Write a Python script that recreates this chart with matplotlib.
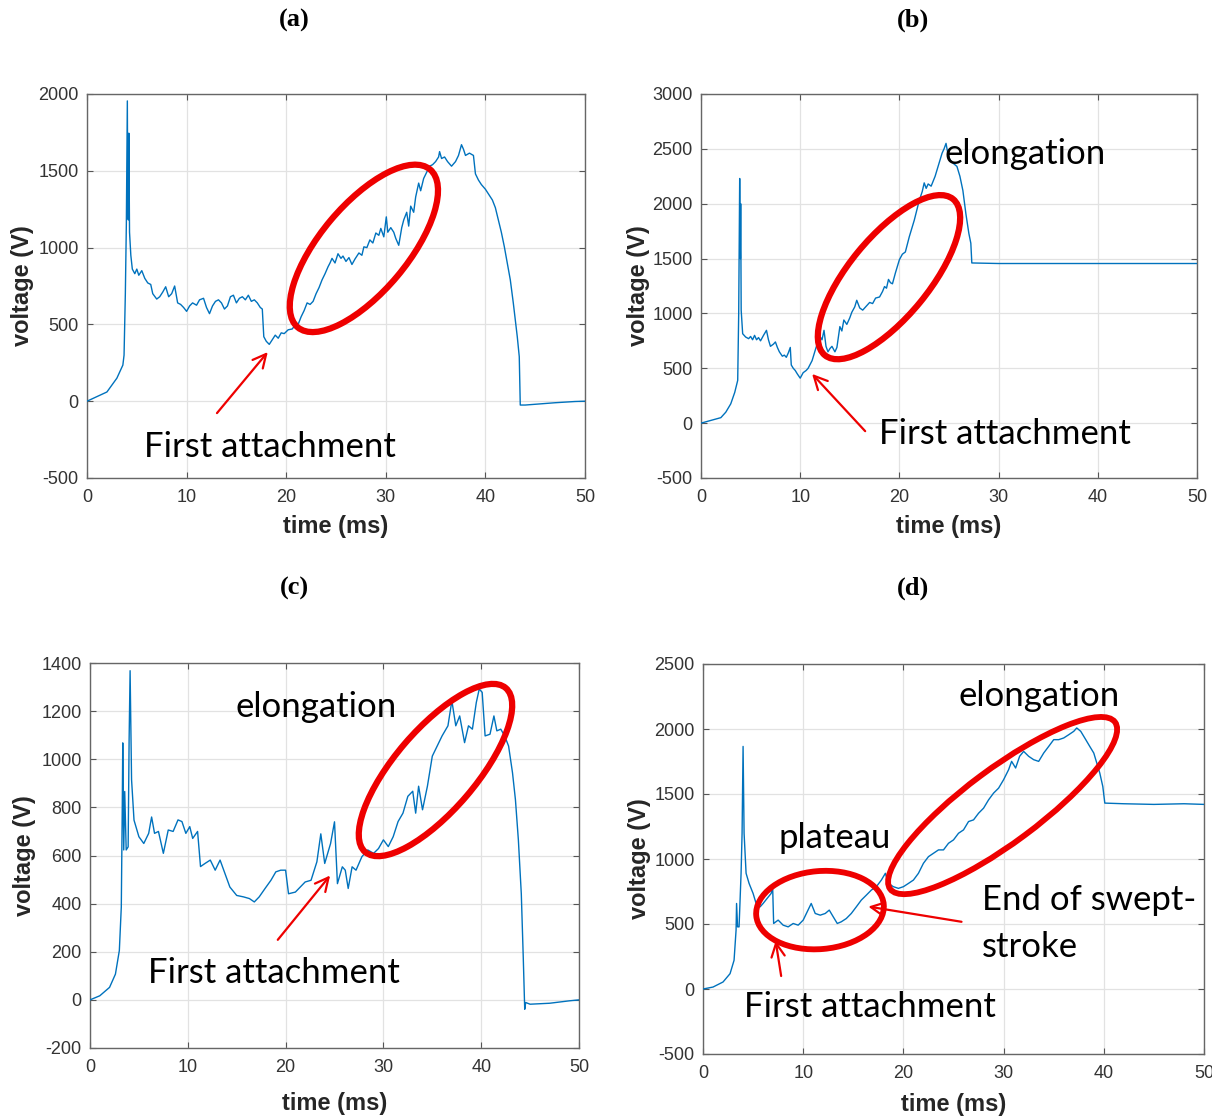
import matplotlib
matplotlib.use('Agg')
import matplotlib.pyplot as plt
from matplotlib.patches import Ellipse
from matplotlib.transforms import ScaledTranslation

plt.rcParams['axes.unicode_minus'] = False

# ---------------- data ----------------
x_ticks = [0, 10, 20, 30, 40, 50]
x_ticklabels = ['0', '10', '20', '30', '40', '50']

t_a = [0, 1, 2, 3, 3.6, 3.72, 3.85, 3.95, 4.05, 4.1,
       4.15, 4.2, 4.27, 4.4, 4.55, 4.8, 5.0, 5.2, 5.5, 5.8,
       6.1, 6.4, 6.6, 7.0, 7.3, 7.6, 7.9, 8.2, 8.5, 8.8,
       9.1, 9.4, 9.7, 10.0, 10.3, 10.6, 11.0, 11.3, 11.7, 12.0,
       12.3, 12.6, 12.9, 13.2, 13.5, 13.8, 14.1, 14.4, 14.7, 15.0,
       15.3, 15.6, 15.9, 16.2, 16.5, 16.8, 17.1, 17.4, 17.6, 17.75,
       18.0, 18.3, 18.6, 18.9, 19.2, 19.5, 19.8, 20.2, 20.6, 20.9,
       21.2, 21.5, 21.8, 22.1, 22.4, 22.7, 23.0, 23.3, 23.6, 23.9,
       24.2, 24.4, 24.6, 24.9, 25.2, 25.5, 25.7, 26.0, 26.3, 26.6,
       26.9, 27.3, 27.6, 27.8, 28.1, 28.4, 28.7, 29.0, 29.3, 29.5,
       29.8, 30.05, 30.2, 30.5, 30.8, 31.0, 31.3, 31.6, 31.8, 32.1,
       32.3, 32.5, 32.8, 33.0, 33.3, 33.5, 33.8, 34.1, 34.4, 34.7,
       35.0, 35.3, 35.4, 35.6, 35.9, 36.2, 36.6, 37.0, 37.3, 37.6,
       37.8, 38.0, 38.4, 38.8, 39.0, 39.3, 39.6, 40.0, 40.3, 40.7,
       41.0, 41.3, 41.6, 41.9, 42.2, 42.5, 42.8, 43.0, 43.2, 43.4,
       43.5, 44.0, 45.0, 46.0, 47.0, 48.0, 49.0, 50]
v_a = [0, 30, 60, 150, 235, 300, 700, 1150, 1955, 1200,
       1180, 1745, 1100, 950, 860, 830, 860, 820, 850, 800,
       770, 760, 700, 665, 680, 710, 745, 680, 700, 750,
       640, 630, 610, 585, 620, 640, 625, 660, 670, 610,
       570, 620, 650, 660, 640, 600, 620, 680, 690, 640,
       670, 680, 660, 690, 650, 660, 640, 610, 600, 420,
       390, 370, 400, 430, 410, 445, 440, 465, 470, 495,
       500, 550, 590, 640, 630, 650, 700, 740, 790, 830,
       875, 900, 930, 900, 960, 930, 945, 910, 935, 890,
       925, 965, 950, 1005, 1000, 1050, 1030, 1095, 1080, 1125,
       1070, 1200, 1100, 1130, 1100, 1060, 1015, 1130, 1180, 1230,
       1140, 1270, 1230, 1330, 1420, 1370, 1450, 1490, 1530, 1540,
       1560, 1590, 1625, 1580, 1590, 1560, 1530, 1560, 1600, 1670,
       1640, 1600, 1615, 1600, 1480, 1440, 1410, 1380, 1350, 1310,
       1260, 1180, 1100, 1006, 900, 790, 640, 530, 420, 290,
       -25, -25, -20, -15, -10, -6, -2, 0]
yticks_a = [-500, 0, 500, 1000, 1500, 2000]
yticklabels_a = ['-500', '0', '500', '1000', '1500', '2000']

t_b = [0, 1, 2, 2.5, 3, 3.4, 3.7, 3.8, 3.9, 3.97,
       4.0, 4.05, 4.2, 4.5, 4.8, 5.0, 5.2, 5.4, 5.6, 5.8,
       6.0, 6.3, 6.6, 6.8, 7.0, 7.3, 7.5, 7.7, 7.9, 8.2,
       8.4, 8.6, 8.8, 9.0, 9.1, 9.3, 9.5, 9.7, 10.0, 10.3,
       10.6, 10.8, 11.2, 11.6, 12.0, 12.2, 12.4, 12.6, 12.8, 13.0,
       13.2, 13.5, 13.7, 14.0, 14.2, 14.4, 14.7, 15.0, 15.2, 15.5,
       15.7, 16.0, 16.3, 16.7, 17.0, 17.3, 17.6, 18.0, 18.3, 18.5,
       18.7, 18.9, 19.1, 19.3, 19.6, 20.0, 20.3, 20.6, 21.0, 21.5,
       22.0, 22.3, 22.5, 22.7, 22.9, 23.2, 23.6, 24.0, 24.3, 24.5,
       24.7, 24.9, 25.1, 25.4, 25.8, 26.1, 26.4, 26.7, 27.0, 27.2,
       27.3, 30, 40, 50]
v_b = [0, 25, 50, 100, 176, 280, 390, 1000, 2230, 1500,
       2000, 1030, 815, 785, 770, 790, 760, 800, 760, 780,
       750, 800, 846, 760, 700, 720, 740, 690, 650, 610,
       620, 600, 640, 690, 530, 500, 480, 450, 410, 460,
       480, 500, 570, 690, 790, 760, 846, 700, 650, 680,
       700, 650, 690, 880, 840, 940, 900, 960, 1010, 1060,
       1120, 1050, 1030, 1070, 1100, 1090, 1140, 1150, 1200, 1245,
       1230, 1310, 1280, 1270, 1370, 1490, 1540, 1560, 1700, 1850,
       2030, 2110, 2190, 2140, 2180, 2160, 2250, 2370, 2460, 2500,
       2550, 2450, 2400, 2370, 2340, 2250, 2120, 1910, 1730, 1640,
       1460, 1455, 1455, 1455]
yticks_b = [-500, 0, 500, 1000, 1500, 2000, 2500, 3000]
yticklabels_b = ['-500', '0', '500', '1000', '1500', '2000', '2500', '3000']

t_c = [0, 1, 2, 2.6, 3.0, 3.2, 3.3, 3.35, 3.45, 3.55,
       3.7, 3.9, 4.0, 4.1, 4.25, 4.5, 5.0, 5.5, 6.0, 6.3,
       6.6, 7.0, 7.5, 8.0, 8.5, 9.0, 9.4, 9.8, 10.2, 10.5,
       11.0, 11.3, 11.8, 12.3, 12.8, 13.3, 13.8, 14.3, 15.0, 15.7,
       16.3, 16.8, 17.3, 17.9, 18.5, 19.0, 19.5, 20.0, 20.3, 21.0,
       21.5, 22.0, 22.6, 23.2, 23.6, 24.0, 24.6, 25.0, 25.3, 25.8,
       26.1, 26.4, 26.8, 27.2, 27.8, 28.4, 29.0, 29.5, 30.0, 30.5,
       31.0, 31.5, 32.0, 32.5, 33.0, 33.3, 33.6, 34.0, 34.5, 35.0,
       35.5, 36.0, 36.6, 37.0, 37.4, 37.8, 38.3, 38.7, 39.1, 39.5,
       39.8, 40.1, 40.4, 40.9, 41.3, 41.6, 42.0, 42.4, 42.8, 43.2,
       43.5, 43.8, 44.1, 44.3, 44.45, 44.55, 45, 47, 49, 50]
v_c = [0, 17, 52, 107, 205, 386, 804, 1068, 623, 866,
       623, 636, 1082, 1368, 915, 747, 678, 650, 692, 760,
       692, 700, 609, 706, 700, 748, 741, 692, 720, 671,
       700, 554, 568, 581, 539, 581, 525, 469, 434, 428,
       421, 407, 428, 463, 497, 532, 539, 539, 441, 448,
       469, 490, 497, 574, 690, 567, 650, 740, 483, 553,
       539, 463, 553, 539, 595, 623, 609, 629, 665, 637,
       678, 741, 776, 846, 867, 776, 888, 790, 888, 1013,
       1055, 1097, 1139, 1243, 1139, 1180, 1069, 1139, 1125, 1236,
       1292, 1278, 1097, 1104, 1180, 1118, 1125, 1097, 1055, 944,
       832, 665, 441, 177, -39, -11, -18, -14, -4, 0]
yticks_c = [-200, 0, 200, 400, 600, 800, 1000, 1200, 1400]
yticklabels_c = ['-200', '0', '200', '400', '600', '800', '1000', '1200', '1400']

t_d = [0, 1, 2, 2.7, 3.1, 3.3, 3.35, 3.45, 3.6, 3.8,
       3.9, 4.0, 4.1, 4.3, 4.6, 5.0, 5.3, 5.7, 6.0, 6.4,
       6.8, 6.95, 7.05, 7.5, 8.0, 8.5, 9.0, 9.5, 10.0, 10.4,
       10.8, 11.2, 11.7, 12.2, 12.6, 13.0, 13.4, 13.8, 14.3, 14.8,
       15.3, 15.8, 16.3, 16.8, 17.3, 17.8, 18.2, 18.5, 19.0, 19.5,
       20.0, 20.5, 21.0, 21.5, 22.0, 22.5, 23.0, 23.5, 24.0, 24.5,
       25.0, 25.5, 26.0, 26.5, 27.0, 27.5, 28.0, 28.5, 29.0, 29.5,
       30.0, 30.5, 30.8, 31.2, 31.6, 32.0, 32.5, 33.0, 33.5, 34.0,
       34.5, 35.0, 35.5, 36.0, 36.5, 37.0, 37.3, 37.7, 38.2, 38.6,
       39.0, 39.3, 39.6, 39.9, 40.1, 42, 45, 48, 50]
v_d = [0, 15, 54, 118, 221, 452, 658, 478, 478, 890,
       1198, 1866, 1198, 890, 812, 735, 658, 632, 658, 697,
       735, 787, 504, 530, 491, 478, 504, 491, 530, 594,
       658, 581, 568, 581, 607, 555, 504, 517, 542, 581,
       632, 684, 722, 761, 787, 838, 890, 812, 787, 774,
       787, 812, 838, 890, 967, 1018, 1044, 1070, 1070, 1121,
       1147, 1198, 1224, 1288, 1301, 1352, 1391, 1455, 1507, 1545,
       1610, 1687, 1751, 1700, 1790, 1828, 1790, 1764, 1751, 1815,
       1866, 1918, 1918, 1931, 1956, 1982, 2008, 1982, 1918, 1866,
       1815, 1738, 1661, 1558, 1430, 1425, 1420, 1425, 1420]
yticks_d = [-500, 0, 500, 1000, 1500, 2000, 2500]
yticklabels_d = ['-500', '0', '500', '1000', '1500', '2000', '2500']

panel_titles = ['(a)', '(b)', '(c)', '(d)']

# ---------------- figure ----------------
W, H = 1212, 1120
fig = plt.figure(figsize=(W / 100, H / 100), dpi=100)

LINE_C = '#0072BD'
RED = '#ee0000'
ANN_FONT = ['Lato', 'DejaVu Sans']
ANN_SIZE = 25


def px_rect(x0, x1, ytop, ybot):
    return [x0 / W, 1 - ybot / H, (x1 - x0) / W, (ybot - ytop) / H]


def make_ax(rect, t, v, yticks, yticklabels, xlab_y, ylab_x):
    ax = fig.add_axes(rect)
    ax.plot(t, v, color=LINE_C, lw=1.0, zorder=3)
    ax.set_xlim(0, 50)
    ax.set_ylim(yticks[0], yticks[-1])
    ax.set_xticks(x_ticks)
    ax.set_xticklabels(x_ticklabels, family='Liberation Sans')
    ax.set_yticks(yticks)
    ax.set_yticklabels(yticklabels, family='Liberation Sans')
    ax.grid(True, color='#e2e2e2', lw=0.9)
    ax.set_axisbelow(True)
    ax.tick_params(direction='in', length=4, width=0.8, color='#555555',
                   top=True, right=True, labelsize=13, labelcolor='#333333')
    ax.tick_params(axis='x', pad=8)
    ax.tick_params(axis='y', pad=6)
    for s in ax.spines.values():
        s.set_color('#666666')
        s.set_linewidth(1.0)
    ax.set_xlabel('time (ms)', family='Liberation Sans', fontweight='bold',
                  fontsize=17, color='#262626', va='center')
    ax.xaxis.set_label_coords(0.5, xlab_y)
    ax.set_ylabel('voltage (V)', family='Liberation Sans', fontweight='bold',
                  fontsize=17, color='#262626', va='center')
    ax.yaxis.set_label_coords(ylab_x, 0.5)
    return ax


def ellipse(ax, fx, fy, w_px, h_px, ang, lw=4.5):
    tr = fig.dpi_scale_trans + ScaledTranslation(fx, fy, ax.transAxes)
    e = Ellipse((0, 0), w_px / 100, h_px / 100, angle=ang, transform=tr,
                fill=False, ec=RED, lw=lw, clip_on=False, zorder=6)
    ax.add_patch(e)


def arrow(ax, tail, head):
    ax.annotate('', xy=head, xytext=tail, xycoords='axes fraction',
                textcoords='axes fraction',
                arrowprops=dict(arrowstyle='->', color=RED, lw=1.6,
                                mutation_scale=24, shrinkA=0, shrinkB=0),
                zorder=7)


def label(ax, fx, fy, s, ha='center'):
    ax.text(fx, fy, s, transform=ax.transAxes, ha=ha, va='baseline',
            fontsize=ANN_SIZE, family=ANN_FONT, color='black', zorder=8)


# (a)
ax_a = make_ax(px_rect(87, 585, 94, 478), t_a, v_a, yticks_a, yticklabels_a, -0.126, -0.13)
ellipse(ax_a, 0.556, 0.598, 206, 87, 50)
arrow(ax_a, (0.261, 0.169), (0.363, 0.328))
label(ax_a, 0.367, 0.055, 'First attachment')

# (b)
ax_b = make_ax(px_rect(701, 1197, 94, 478), t_b, v_b, yticks_b, yticklabels_b, -0.126, -0.127)
ellipse(ax_b, 0.379, 0.523, 202, 80, 50.6)
arrow(ax_b, (0.331, 0.122), (0.224, 0.271))
label(ax_b, 0.613, 0.0885, 'First attachment')
label(ax_b, 0.653, 0.817, 'elongation')

# (c)
ax_c = make_ax(px_rect(90, 579, 663, 1048), t_c, v_c, yticks_c, yticklabels_c, -0.143, -0.134)
ellipse(ax_c, 0.7065, 0.722, 216, 81, 49.4)
arrow(ax_c, (0.384, 0.281), (0.491, 0.448))
label(ax_c, 0.462, 0.859, 'elongation')
label(ax_c, 0.377, 0.168, 'First attachment')

# (d)
ax_d = make_ax(px_rect(703, 1204, 664, 1054), t_d, v_d, yticks_d, yticklabels_d, -0.130, -0.127)
ellipse(ax_d, 0.598, 0.637, 280, 74, 36.6, lw=4.2)
ellipse(ax_d, 0.2335, 0.369, 128, 78, 5, lw=4.2)
arrow(ax_d, (0.156, 0.200), (0.145, 0.290))
arrow(ax_d, (0.516, 0.339), (0.330, 0.378))
label(ax_d, 0.671, 0.893, 'elongation')
label(ax_d, 0.263, 0.528, 'plateau')
label(ax_d, 0.556, 0.369, 'End of swept-', ha='left')
label(ax_d, 0.556, 0.249, 'stroke', ha='left')
label(ax_d, 0.333, 0.096, 'First attachment')

# panel titles
for (px, py), s in zip([(294, 20), (913, 20), (294, 588), (913, 588)], panel_titles):
    fig.text(px / W, 1 - py / H, s, ha='center', va='center',
             family='Liberation Serif', fontweight='bold', fontsize=19)

fig.savefig('out.png', dpi=100)
